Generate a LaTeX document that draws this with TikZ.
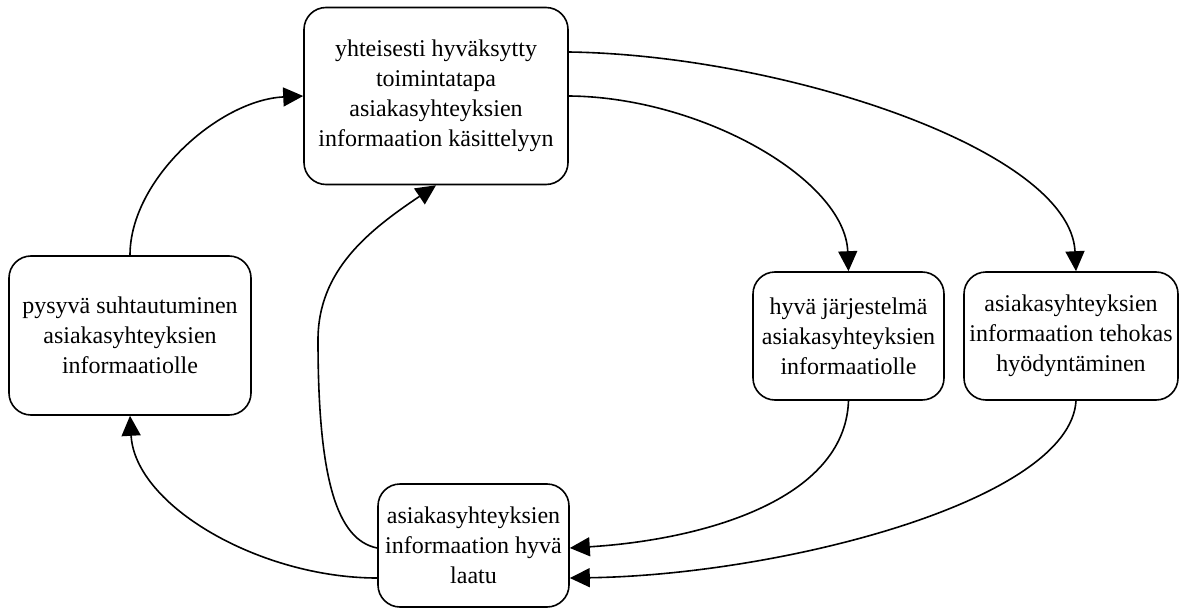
\documentclass[tikz,border=0pt]{standalone}
\usepackage{fontspec}
\setmainfont{Liberation Serif}
\usetikzlibrary{arrows.meta}
\begin{document}
\begin{tikzpicture}[x=1pt,y=-1pt,
  box/.style={draw, line width=1.6pt, rounded corners=22pt, align=center,
    inner sep=0pt, font=\fontsize{24}{30}\selectfont},
  link/.style={line width=1.6pt, -{Triangle[length=20pt,width=19pt]}}]
\useasboundingbox (0,0) rectangle (1184,610);

% boxes
\node[box, minimum width=264pt, minimum height=177pt] (top) at (436,96)
  {yhteisesti hyväksytty\\toimintatapa\\asiakasyhteyksien\\informaation käsittelyyn};
\node[box, minimum width=242pt, minimum height=159pt] (lft) at (130,335.5)
  {pysyvä suhtautuminen\\asiakasyhteyksien\\informaatiolle};
\node[box, minimum width=191pt, minimum height=128pt] (mid) at (848.5,336)
  {hyvä järjestelmä\\asiakasyhteyksien\\informaatiolle};
\node[box, minimum width=214pt, minimum height=128pt] (rgt) at (1071,336)
  {asiakasyhteyksien\\informaation tehokas\\hyödyntäminen};
\node[box, minimum width=191pt, minimum height=123pt] (bot) at (473.5,545.5)
  {asiakasyhteyksien\\informaation hyvä\\laatu};

\coordinate (bend) at (318,340);

% connectors
\draw[link] (lft.north) .. controls +(0,-76) and +(-84,4) .. (top.west);
\draw[link] ([yshift=-32.5pt]bot.west) .. controls +(-117,0) and +(5,90) .. (lft.south);
\draw[link] ([yshift=-2.5pt]bot.west) .. controls +(-40,-8) and +(0,140) .. (bend)
  .. controls +(0,-70) and +(-67,45) .. (top.south);
\draw[link] ([yshift=44pt]top.east) .. controls +(212,3) and +(-6,-122) .. ([xshift=5pt]rgt.north);
\draw[link] (top.east) .. controls +(132,1) and +(-3.5,-92) .. (mid.north);
\draw[link] (mid.south) .. controls +(-3.5,100) and +(131,-8) .. ([yshift=-2.5pt]bot.east);
\draw[link] ([xshift=5pt]rgt.south) .. controls +(-6,100) and +(211,-3) .. ([yshift=-32.5pt]bot.east);
\end{tikzpicture}
\end{document}
